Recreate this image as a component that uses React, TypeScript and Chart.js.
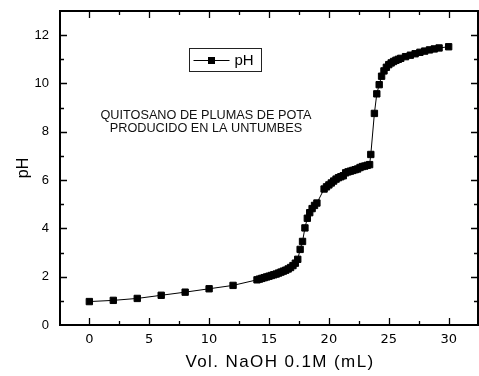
import React, { useEffect, useRef } from 'react';
import { Chart, registerables } from 'chart.js';

Chart.register(...registerables);

// ---- data ----
const volume = [
  0, 2, 4, 6, 8, 10, 12, 14,
  14.2, 14.4, 14.6, 14.8, 15.0, 15.2, 15.4, 15.6, 15.8, 16.0,
  16.2, 16.4, 16.6, 16.8, 17.0, 17.2, 17.4, 17.6, 17.8, 18.0,
  18.2, 18.4, 18.6, 18.8, 19.0,
  19.6, 19.8, 20.0, 20.2, 20.4, 20.6, 20.8, 21.0, 21.2, 21.4,
  21.6, 21.8, 22.0, 22.2, 22.4, 22.6, 22.8, 23.0, 23.2, 23.4,
  23.5, 23.8, 24.0,
  24.2, 24.4, 24.6, 24.8, 25.0, 25.2, 25.4, 25.6, 25.8, 26.0,
  26.4, 26.8, 27.2, 27.6, 28.0, 28.4, 28.8, 29.2, 30.0,
];
const pH = [
  0.97, 1.02, 1.10, 1.23, 1.36, 1.50, 1.64, 1.87,
  1.90, 1.93, 1.96, 1.99, 2.02, 2.05, 2.08, 2.11, 2.15, 2.19,
  2.23, 2.27, 2.32, 2.38, 2.46, 2.56, 2.72, 3.13, 3.46, 4.02,
  4.42, 4.65, 4.82, 4.95, 5.05,
  5.63, 5.72, 5.80, 5.88, 5.96, 6.04, 6.10, 6.14, 6.18, 6.30,
  6.34, 6.37, 6.40, 6.43, 6.46, 6.52, 6.56, 6.58, 6.61, 6.64,
  7.06, 8.76, 9.57,
  9.95, 10.30, 10.52, 10.67, 10.78, 10.85, 10.91, 10.96, 11.00, 11.04,
  11.11, 11.17, 11.23, 11.29, 11.34, 11.39, 11.43, 11.47, 11.52,
];

const xMajorTicks = [0, 5, 10, 15, 20, 25, 30];
const xMinorTicks = [2.5, 7.5, 12.5, 17.5, 22.5, 27.5];
const yMajorTicks = [0, 2, 4, 6, 8, 10, 12];
const yMinorTicks = [1, 3, 5, 7, 9, 11];

const seriesName = 'pH';
const xTitle = 'Vol. NaOH 0.1M (mL)';
const yTitle = 'pH';
const noteLines = ['QUITOSANO DE PLUMAS DE POTA', 'PRODUCIDO EN LA UNTUMBES'];

const FONT = '"Liberation Sans", Arial, sans-serif';

const framePlugin = {
  id: 'originFrame',
  afterDraw(chart: any) {
    const { ctx, chartArea, scales } = chart;
    const { left, right, top, bottom } = chartArea;
    const xs = scales.x;
    const ys = scales.y;
    ctx.save();
    ctx.strokeStyle = '#000';
    ctx.fillStyle = '#000';

    // inward ticks on all four sides
    ctx.lineWidth = 1.3;
    const tick = (v: number, len: number, horiz: boolean) => {
      ctx.beginPath();
      if (horiz) {
        const p = Math.round(xs.getPixelForValue(v)) + 0.5;
        ctx.moveTo(p, bottom); ctx.lineTo(p, bottom - len);
        ctx.moveTo(p, top); ctx.lineTo(p, top + len);
      } else {
        const p = Math.round(ys.getPixelForValue(v)) + 0.5;
        ctx.moveTo(left, p); ctx.lineTo(left + len, p);
        ctx.moveTo(right, p); ctx.lineTo(right - len, p);
      }
      ctx.stroke();
    };
    xMajorTicks.forEach((v) => tick(v, 7, true));
    xMinorTicks.forEach((v) => tick(v, 4, true));
    yMajorTicks.forEach((v) => { if (v > 0) tick(v, 7, false); });
    yMinorTicks.forEach((v) => tick(v, 4, false));

    // frame
    ctx.lineWidth = 2;
    ctx.strokeRect(left, top, right - left, bottom - top);

    // axis titles
    ctx.textAlign = 'center';
    ctx.textBaseline = 'middle';
    ctx.font = '17px ' + FONT;
    (ctx as any).letterSpacing = '1.4px';
    ctx.fillText(xTitle, (left + right) / 2 + 11, 362);
    (ctx as any).letterSpacing = '0px';

    ctx.save();
    ctx.translate(24, (top + bottom) / 2);
    ctx.rotate(-Math.PI / 2);
    ctx.font = '16px ' + FONT;
    ctx.fillText(yTitle, 0, 0);
    ctx.restore();

    // annotation
    ctx.font = '12.7px ' + FONT;
    ctx.fillStyle = '#111';
    ctx.fillText(noteLines[0], left + 146, top + 104);
    ctx.fillText(noteLines[1], left + 146, top + 117.5);

    // legend box
    const lx = left + 129.5;
    const ly = top + 37.5;
    ctx.lineWidth = 1;
    ctx.strokeStyle = '#222';
    ctx.strokeRect(lx, ly, 72, 23);
    const cy = ly + 12;
    ctx.strokeStyle = '#000';
    ctx.beginPath();
    ctx.moveTo(lx + 4, cy); ctx.lineTo(lx + 40, cy);
    ctx.stroke();
    ctx.fillStyle = '#000';
    ctx.fillRect(lx + 22 - 3.5, cy - 3.5, 7, 7);
    ctx.textAlign = 'left';
    ctx.font = '15px ' + FONT;
    ctx.fillText(seriesName, lx + 45, cy + 0.5);

    ctx.restore();
  },
};

const zeroPadding = (s: any) => {
  s.paddingTop = 0;
  s.paddingBottom = 0;
  s.paddingLeft = 0;
  s.paddingRight = 0;
};

export default function App() {
  const ref = useRef<HTMLCanvasElement | null>(null);

  useEffect(() => {
    if (!ref.current) return;
    const chart = new Chart(ref.current, {
      type: 'line',
      data: {
        datasets: [
          {
            label: seriesName,
            data: volume.map((v, i) => ({ x: v, y: pH[i] })),
            borderColor: '#000',
            borderWidth: 1,
            pointStyle: 'rect',
            pointRadius: 4.5,
            pointBackgroundColor: '#000',
            pointBorderColor: '#000',
            pointBorderWidth: 1,
            tension: 0,
            fill: false,
          },
        ],
      },
      options: {
        animation: false,
        responsive: false,
        layout: { autoPadding: false, padding: { top: 11, right: 1, left: 0, bottom: 0 } },
        plugins: {
          legend: { display: false },
          tooltip: { enabled: false },
          title: { display: false },
        },
        scales: {
          x: {
            type: 'linear',
            min: -2.45,
            max: 32.45,
            grid: { display: false, drawTicks: false },
            border: { display: false },
            afterBuildTicks: (s: any) => {
              s.ticks = xMajorTicks.map((v) => ({ value: v }));
            },
            afterFit: (s: any) => {
              s.height = 51;
              zeroPadding(s);
            },
            ticks: {
              autoSkip: false,
              maxRotation: 0,
              padding: 7,
              color: '#000',
              font: { family: 'DejaVu Sans', size: 13 },
            },
          },
          y: {
            type: 'linear',
            min: 0,
            max: 13,
            grid: { display: false, drawTicks: false },
            border: { display: false },
            afterBuildTicks: (s: any) => {
              s.ticks = yMajorTicks.map((v) => ({ value: v }));
            },
            afterFit: (s: any) => {
              s.width = 60;
              zeroPadding(s);
            },
            ticks: {
              autoSkip: false,
              padding: 11,
              color: '#000',
              font: { family: 'Liberation Sans', size: 13 },
            },
          },
        },
      },
      plugins: [framePlugin],
    });
    return () => chart.destroy();
  }, []);

  return (
    <div style={{ position: 'absolute', left: 0, top: 0, width: 479, height: 376, background: '#fff' }}>
      <canvas ref={ref} width={479} height={376} style={{ display: 'block' }} />
    </div>
  );
}
